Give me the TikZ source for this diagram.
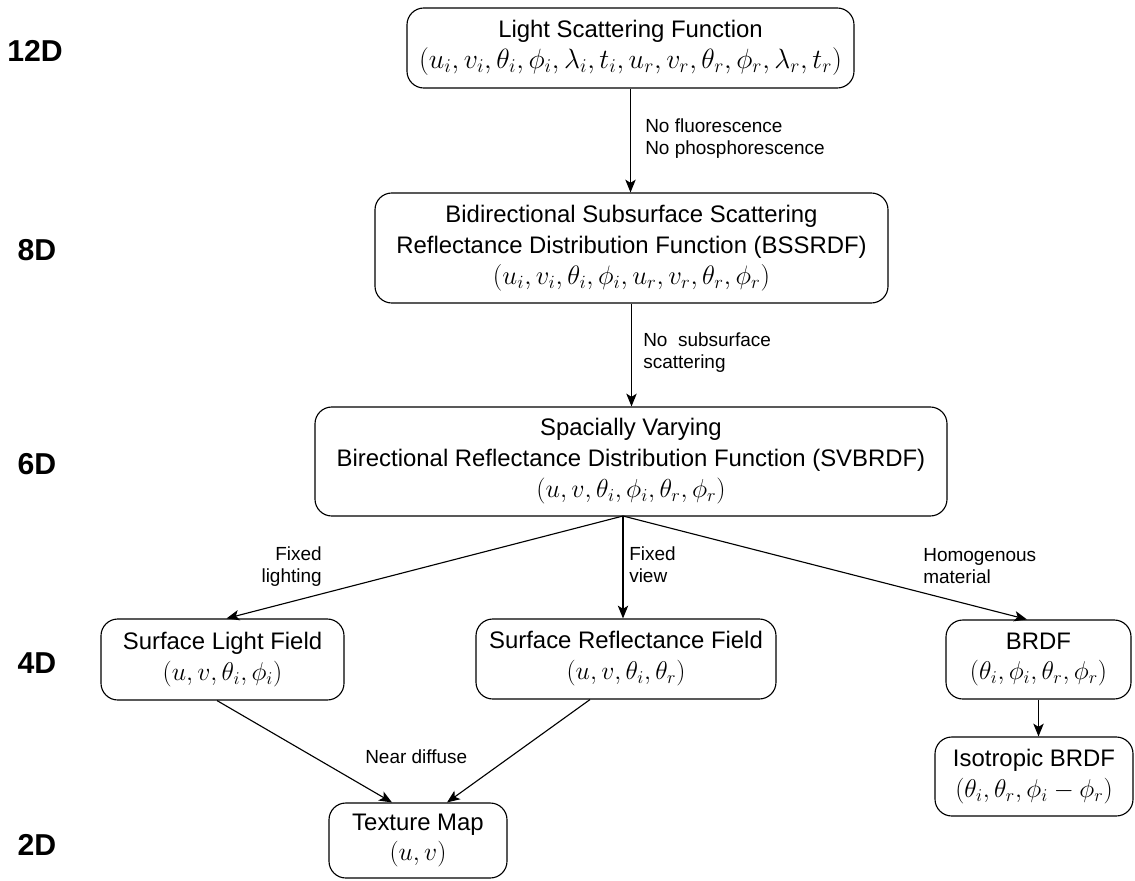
\documentclass[tikz,border=0pt]{standalone}
\usepackage{fix-cm}
\usepackage[no-math]{fontspec}
\setmainfont{Liberation Sans}
\usepackage{tikz}
\usetikzlibrary{arrows.meta}
\tikzset{>={Stealth[length=3.2mm,width=2.6mm,inset=0.8mm]}}
\newcommand{\pxunit}{0.025cm}
\newcommand{\argline}[2][19]{{\fontsize{#1}{22}\selectfont$#2$}}
\tikzset{
  funcbox/.style={shape=rectangle,draw,rounded corners=0.42cm,line width=0.8pt,align=center,inner sep=0pt,font=\fontsize{17}{22}\selectfont},
  flowlabel/.style={inner sep=0pt,font=\fontsize{13.5}{16}\selectfont},
  dimlabel/.style={inner sep=0pt,font=\fontsize{21.5}{24}\selectfont\bfseries},
  flow/.style={->,line width=0.8pt},
}

\begin{document}
\begin{tikzpicture}[x=0.025cm,y=-0.025cm]

\useasboundingbox (0,0) rectangle (1135,880);

% dimension labels
\node (d12) [dimlabel] at (35,51) {12D};
\node (d8) [dimlabel] at (37,250) {8D};
\node (d6) [dimlabel] at (37,464) {6D};
\node (d4) [dimlabel] at (37,663) {4D};
\node (d2) [dimlabel] at (37,845) {2D};

% function boxes
\node (lsf) [funcbox,minimum width=447*\pxunit,minimum height=80*\pxunit] at (630.5,48) {Light Scattering Function\\\argline[19.8]{(u_i,v_i,\theta_i,\phi_i,\lambda_i,t_i,u_r,v_r,\theta_r,\phi_r,\lambda_r,t_r)}};

\node (bss) [funcbox,minimum width=513*\pxunit,minimum height=110*\pxunit] at (631.5,248) {Bidirectional Subsurface Scattering\\Reflectance Distribution Function (BSSRDF)\\\argline{(u_i,v_i,\theta_i,\phi_i,u_r,v_r,\theta_r,\phi_r)}};

\node (sv) [funcbox,minimum width=632*\pxunit,minimum height=109*\pxunit] at (631,461.5) {Spacially Varying\\Birectional Reflectance Distribution Function (SVBRDF)\\\argline[18.5]{(u,v,\theta_i,\phi_i,\theta_r,\phi_r)}};

\node (slf) [funcbox,minimum width=243*\pxunit,minimum height=81*\pxunit] at (222.5,659.5) {Surface Light Field\\\argline[18.3]{(u,v,\theta_i,\phi_i)}};

\node (srf) [funcbox,minimum width=300*\pxunit,minimum height=80*\pxunit] at (626,659) {Surface Reflectance Field\\\argline[18.3]{(u,v,\theta_i,\theta_r)}};

\node (brdf) [funcbox,minimum width=185*\pxunit,minimum height=79*\pxunit] at (1038.5,659.5) {BRDF\\\argline[18.3]{(\theta_i,\phi_i,\theta_r,\phi_r)}};

\node (iso) [funcbox,minimum width=198*\pxunit,minimum height=79*\pxunit] at (1034,776.5) {Isotropic BRDF\\\argline[18.3]{(\theta_i,\theta_r,\phi_i-\phi_r)}};

\node (tm) [funcbox,minimum width=178*\pxunit,minimum height=75*\pxunit] at (418,840.5) {Texture Map\\\argline[18.3]{(u,v)}};

% connectors
\draw[flow] (lsf.south) -- (lsf.south |- bss.north);
\draw[flow] (bss.south) -- (bss.south |- sv.north);
\coordinate (fork) at (623,516);
\draw[flow] (fork) -- ([xshift=4*\pxunit]slf.north);
\draw[flow] (fork) -- (fork |- srf.north);
\draw[flow] (fork) -- ([xshift=-11.5*\pxunit]brdf.north);
\draw[flow] ([xshift=-5.5*\pxunit]slf.south) -- ([xshift=-26*\pxunit]tm.north);
\draw[flow] ([xshift=-36*\pxunit]srf.south) -- ([xshift=29*\pxunit]tm.north);
\draw[flow] (brdf.south) -- (brdf.south |- iso.north);

% connector labels
\node (nofluo) [flowlabel,align=left,anchor=north west] at (645,118) {No fluorescence\\No phosphorescence};
\node (nosub) [flowlabel,align=left,anchor=north west] at (643,332) {No~~subsurface\\scattering};
\node (fixlight) [flowlabel,align=right,anchor=north east] at (322,546) {Fixed\\lighting};
\node (fixview) [flowlabel,align=left,anchor=north west] at (629,546) {Fixed\\view};
\node (homog) [flowlabel,align=left,anchor=north west] at (923,548) {Homogenous\\material};
\node (neardiff) [flowlabel,anchor=base west] at (365,763) {Near diffuse};

\end{tikzpicture}
\end{document}
